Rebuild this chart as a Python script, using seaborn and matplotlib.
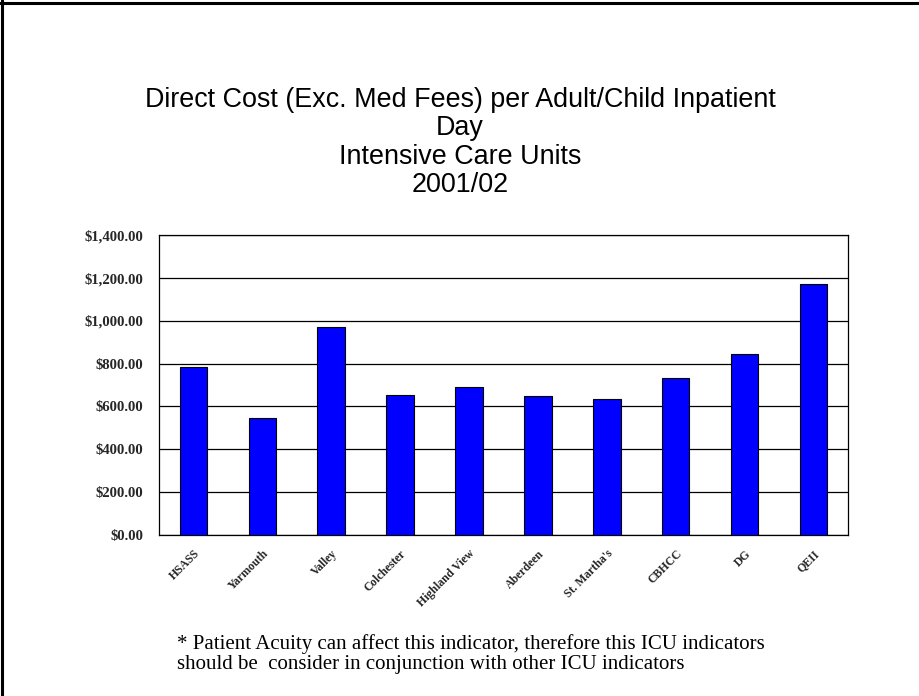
import matplotlib
matplotlib.use("Agg")
import matplotlib.pyplot as plt
import seaborn as sns
import pandas as pd
from matplotlib.ticker import FuncFormatter
from matplotlib.lines import Line2D

sns.set_theme(style="white")

units = ["HSASS", "Yarmouth", "Valley", "Colchester", "Highland View",
         "Aberdeen", "St. Martha's", "CBHCC", "DG", "QEII"]
cost_per_day = [784, 544, 971, 653, 689, 648, 634, 734, 846, 1171]
y_ticks = [0, 200, 400, 600, 800, 1000, 1200, 1400]

df = pd.DataFrame({"unit": units, "cost": cost_per_day})

fig = plt.figure(figsize=(9.2, 6.96), dpi=100)
ax = fig.add_axes([0.1728, 0.2313, 0.7489, 0.4311])

sns.barplot(data=df, x="unit", y="cost", color="#0000FF", saturation=1,
            width=0.4, edgecolor="black", linewidth=0.8, ax=ax, zorder=3)

ax.set_ylim(0, 1400)
ax.set_xlim(-0.5, len(units) - 0.5)
ax.set_yticks(y_ticks)
ax.yaxis.set_major_formatter(FuncFormatter(lambda v, p: f"${v:,.2f}"))
ax.grid(axis="y", color="black", linewidth=0.9, zorder=0)
ax.grid(axis="x", visible=False)
ax.set_xlabel("")
ax.set_ylabel("")

for s in ax.spines.values():
    s.set_visible(True)
    s.set_color("black")
    s.set_linewidth(0.9)

ax.tick_params(axis="y", left=False, length=0, pad=11, labelsize=10.6)
ax.tick_params(axis="x", bottom=False, length=0, pad=9, labelsize=8.5)
for lab in ax.get_yticklabels():
    lab.set_fontfamily("Liberation Serif")
    lab.set_fontweight("bold")
for lab in ax.get_xticklabels():
    lab.set_fontfamily("Liberation Serif")
    lab.set_fontweight("bold")
    lab.set_rotation(45)
    lab.set_ha("right")
    lab.set_rotation_mode("anchor")

# slide title
fig.text(0.5, 0.795, "Direct Cost (Exc. Med Fees) per Adult/Child Inpatient\nDay\nIntensive Care Units\n2001/02",
         ha="center", va="center", fontsize=19.4, family="Liberation Sans",
         linespacing=1.12, color="black")

# footnote
fig.text(0.192, 0.031, "* Patient Acuity can affect this indicator, therefore this ICU indicators\n"
         "should be  consider in conjunction with other ICU indicators",
         ha="left", va="bottom", fontsize=15, family="Liberation Serif",
         linespacing=1.12, color="black")

# slide frame (left and top edges)
fig.add_artist(Line2D([0.0025, 0.0025], [0, 1], transform=fig.transFigure,
                      color="black", linewidth=2.2))
fig.add_artist(Line2D([0, 1], [0.9955, 0.9955], transform=fig.transFigure,
                      color="black", linewidth=2.2))

fig.savefig("out.png", dpi=100)
